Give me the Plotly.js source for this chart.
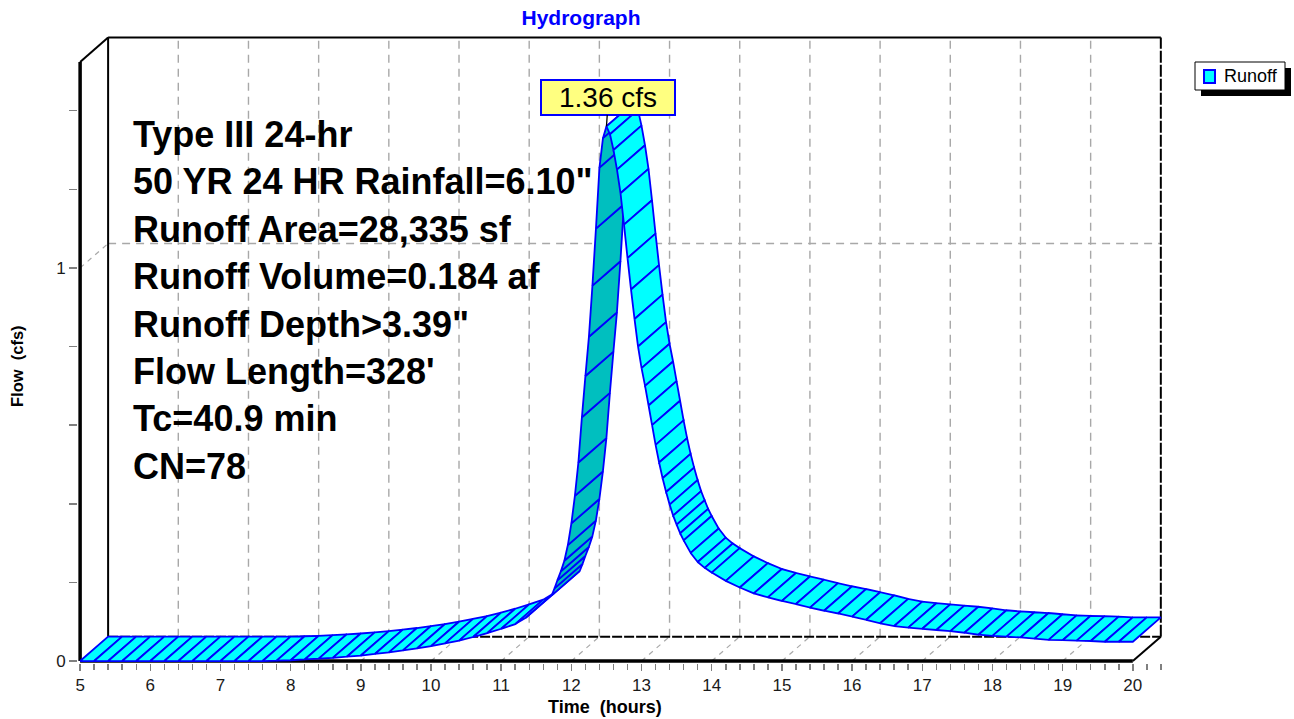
<!DOCTYPE html>
<html>
<head>
<meta charset="utf-8">
<script src="https://cdn.plot.ly/plotly-3.0.1.min.js"></script>
<style>
html,body{margin:0;padding:0;background:#ffffff;}
#chart{width:1294px;height:719px;}
</style>
</head>
<body>
<div id="chart"></div>
<script>
// ---------------- data ----------------
const timeHours = [
  5.0, 5.2, 5.4, 5.6, 5.8, 6.0, 6.2, 6.4, 6.6, 6.8, 7.0, 7.2, 7.4, 7.6, 7.8,
  8.0, 8.2, 8.4, 8.6, 8.8, 9.0, 9.2, 9.4, 9.6, 9.8, 10.0, 10.2, 10.4, 10.6, 10.8,
  11.0, 11.2, 11.35, 11.72, 11.76, 11.8, 11.85, 11.9, 11.95, 12.0, 12.05, 12.1, 12.15,
  12.2, 12.25, 12.3, 12.35, 12.4, 12.45, 12.5, 12.55, 12.6, 12.65, 12.7, 12.75,
  12.8, 12.85, 12.9, 12.95, 13.0, 13.05, 13.1, 13.15, 13.2, 13.25, 13.3, 13.35,
  13.4, 13.45, 13.5, 13.55, 13.6, 13.7, 13.8, 13.9, 14.0, 14.2, 14.4, 14.6, 14.8,
  15.0, 15.2, 15.4, 15.6, 15.8, 16.0, 16.2, 16.4, 16.6, 16.8, 17.0, 17.2, 17.4,
  17.6, 17.8, 18.0, 18.2, 18.4, 18.6, 18.8, 19.0, 19.2, 19.4, 19.6, 19.8, 20.0
];
const flowCfs = [
  0, 0, 0, 0, 0, 0, 0, 0, 0, 0, 0, 0, 0, 0, 0.001,
  0.002, 0.004, 0.006, 0.008, 0.011, 0.014, 0.018, 0.022, 0.027, 0.032, 0.038, 0.045, 0.052, 0.061, 0.071,
  0.082, 0.094, 0.110, 0.167, 0.185, 0.205, 0.228, 0.255, 0.295, 0.350, 0.420, 0.505, 0.620,
  0.725, 0.825, 0.955, 1.100, 1.255, 1.330, 1.360, 1.340, 1.300, 1.250, 1.190, 1.110,
  1.025, 0.945, 0.870, 0.800, 0.745, 0.700, 0.650, 0.600, 0.550, 0.505, 0.465, 0.430,
  0.398, 0.370, 0.347, 0.325, 0.307, 0.275, 0.252, 0.237, 0.225, 0.204, 0.187, 0.172, 0.162,
  0.153, 0.145, 0.136, 0.128, 0.121, 0.113, 0.105, 0.096, 0.089, 0.085, 0.082, 0.079, 0.076,
  0.072, 0.067, 0.064, 0.062, 0.060, 0.057, 0.054, 0.053, 0.052, 0.051, 0.049, 0.049, 0.049
];
const xTickValues = [5, 6, 7, 8, 9, 10, 11, 12, 13, 14, 15, 16, 17, 18, 19, 20];
const yTickValues = [0, 1];
const seriesName = 'Runoff';
const peakLabel = '1.36 cfs';
const chartTitle = 'Hydrograph';
const xTitle = 'Time\u00a0\u00a0(hours)';
const yTitle = 'Flow\u00a0\u00a0(cfs)';
const infoLines = [
  'Type III 24-hr',
  '50 YR 24 HR Rainfall=6.10"',
  'Runoff Area=28,335 sf',
  'Runoff Volume=0.184 af',
  'Runoff Depth>3.39"',
  "Flow Length=328'",
  'Tc=40.9 min',
  'CN=78'
];

// ---------------- geometry / style ----------------
const W = 1294, H = 719;
const M = {l: 78, r: 131, t: 34, b: 56};
const plotW = W - M.l - M.r, plotH = H - M.t - M.b;
const xRange = [4.97, 20.43];
const yRange = [-0.005, 1.595];
const PX = plotW / (xRange[1] - xRange[0]);
const PY = plotH / (yRange[1] - yRange[0]);
const DX = 28 / PX;      // depth offset (hours)
const DY = 24.4 / PY;    // depth offset (cfs)
const yTop = 1.524;      // top of front axis
const xMin = xTickValues[0], xMax = xTickValues[xTickValues.length - 1];
const pxX = p => (p - M.l) / plotW;
const pxY = p => 1 - (p - M.t) / plotH;

const FONT = 'Liberation Sans, Arial, Helvetica, sans-serif';
const CYAN = '#00FFFF', DARK = '#00BFBF', BLUE = '#0000FF';

// ---------------- ribbon traces ----------------
const traces = [];
for (let i = 0; i < timeHours.length - 1; i++) {
  const t0 = timeHours[i], t1 = timeHours[i + 1];
  const q0 = flowCfs[i], q1 = flowCfs[i + 1];
  const sx = (t1 - t0) * PX, sy = (q1 - q0) * PY;
  const cross = sx * (DY * PY) - sy * (DX * PX);
  traces.push({
    type: 'scatter', mode: 'lines',
    x: [t0, t1, t1 + DX, t0 + DX, t0],
    y: [q0, q1, q1 + DY, q0 + DY, q0],
    fill: 'toself',
    fillcolor: cross < 0 ? DARK : CYAN,
    line: {color: BLUE, width: 1.8},
    hoverinfo: 'skip', showlegend: false, name: seriesName
  });
}

// ---------------- frame shapes ----------------
const shapes = [];
const grey = {color: '#A8A8A8', width: 1.4, dash: '8px,6px'};
function ln(x0, y0, x1, y1, line) {
  shapes.push({type: 'line', xref: 'x', yref: 'y', x0, y0, x1, y1, line, layer: 'below'});
}
// grid on back wall and floor
xTickValues.slice(1, -1).forEach(t => {
  ln(t + DX, DY, t + DX, yTop + DY, grey);
  ln(t, 0, t + DX, DY, {color: '#A8A8A8', width: 1.2, dash: '5px,5px'});
});
yTickValues.slice(1).forEach(v => {
  ln(xMin + DX, v + DY, xMax + DX, v + DY, grey);
  ln(xMin, v, xMin + DX, v + DY, {color: '#A8A8A8', width: 1.2, dash: '5px,5px'});
});
// back wall
ln(xMin + DX, yTop + DY, xMax + DX, yTop + DY, {color: '#000', width: 2});
ln(xMin + DX, DY, xMin + DX, yTop + DY, {color: '#000', width: 2});
ln(xMax + DX, DY, xMax + DX, yTop + DY, {color: '#000', width: 2, dash: '12px,2px'});
ln(xMin + DX, DY, xMax + DX, DY, {color: '#000', width: 2, dash: '10px,2px'});
// side connectors
ln(xMin, yTop, xMin + DX, yTop + DY, {color: '#000', width: 2});
ln(xMax, 0, xMax + DX, DY, {color: '#000', width: 2});
// front axes
ln(xMin, 0, xMin, yTop, {color: '#000', width: 3.5});
ln(xMin, 0, xMax, 0, {color: '#000', width: 3.5});

// legend (drawn manually)
shapes.push({type: 'rect', xref: 'paper', yref: 'paper', x0: pxX(1201), x1: pxX(1291), y0: pxY(68), y1: pxY(96),
  fillcolor: '#000', line: {width: 0}});
shapes.push({type: 'rect', xref: 'paper', yref: 'paper', x0: pxX(1195), x1: pxX(1285), y0: pxY(62), y1: pxY(90),
  fillcolor: '#fff', line: {color: '#000', width: 1}});
shapes.push({type: 'rect', xref: 'paper', yref: 'paper', x0: pxX(1204), x1: pxX(1215), y0: pxY(70), y1: pxY(83),
  fillcolor: CYAN, line: {color: BLUE, width: 2}});

// ---------------- annotations ----------------
const annotations = [];
infoLines.forEach((txt, i) => {
  annotations.push({
    text: txt, xref: 'paper', yref: 'paper', x: pxX(131), y: pxY(134.5 + 47.4 * i),
    xanchor: 'left', yanchor: 'middle', showarrow: false,
    font: {family: FONT, size: 36, color: '#000', weight: 'bold'}
  });
});
annotations.push({
  text: seriesName, xref: 'paper', yref: 'paper', x: pxX(1222), y: pxY(76.5),
  xanchor: 'left', yanchor: 'middle', showarrow: false,
  font: {family: FONT, size: 18, color: '#000'}
});
annotations.push({
  text: xTitle, xref: 'paper', yref: 'paper', x: pxX(605), y: pxY(707),
  xanchor: 'center', yanchor: 'middle', showarrow: false,
  font: {family: FONT, size: 18, color: '#000', weight: 'bold'}
});
annotations.push({
  text: yTitle, xref: 'paper', yref: 'paper', x: pxX(17), y: pxY(366),
  xanchor: 'center', yanchor: 'middle', showarrow: false, textangle: -90,
  font: {family: FONT, size: 16.5, color: '#000', weight: 'bold'}
});
let pk = 0;
flowCfs.forEach((v, i) => { if (v > flowCfs[pk]) pk = i; });
annotations.push({
  text: peakLabel, x: timeHours[pk], y: flowCfs[pk], xref: 'x', yref: 'y',
  showarrow: true, arrowhead: 0, arrowwidth: 1.3, arrowcolor: '#000',
  ax: 2, ay: -29, width: 130, height: 31, borderpad: 1, borderwidth: 2,
  bordercolor: BLUE, bgcolor: '#FFFF80', align: 'center', valign: 'middle',
  font: {family: FONT, size: 28, color: '#000'}
});

// ---------------- layout ----------------
const axisFont = {family: FONT, size: 17, color: '#1a1a1a'};
const layout = {
  width: W, height: H,
  margin: M,
  paper_bgcolor: '#fff', plot_bgcolor: 'rgba(0,0,0,0)',
  showlegend: false,
  title: {
    text: chartTitle, x: 581 / W, xanchor: 'center', xref: 'container',
    y: 1 - 18 / H, yanchor: 'middle', yref: 'container',
    font: {family: FONT, size: 21, color: '#0000FF', weight: 'bold'}
  },
  xaxis: {
    range: xRange, tickmode: 'array', tickvals: xTickValues, ticktext: xTickValues.map(String),
    ticks: 'outside', ticklen: 7, tickwidth: 1.5, tickcolor: '#808080',
    minor: {dtick: 0.2, tick0: 5, ticks: 'outside', ticklen: 6, tickwidth: 1.5, tickcolor: '#808080'},
    showgrid: false, zeroline: false, showline: false, tickfont: axisFont, fixedrange: true
  },
  yaxis: {
    range: yRange, tickmode: 'array', tickvals: yTickValues, ticktext: yTickValues.map(String),
    ticks: 'outside', ticklen: 8, tickwidth: 1.5, tickcolor: '#808080',
    minor: {dtick: 0.2, tick0: 0, ticks: 'outside', ticklen: 8, tickwidth: 1.5, tickcolor: '#808080'},
    showgrid: false, zeroline: false, showline: false, tickfont: axisFont, fixedrange: true
  },
  shapes, annotations
};

Plotly.newPlot('chart', traces, layout, {staticPlot: true, displayModeBar: false});
</script>
</body>
</html>
